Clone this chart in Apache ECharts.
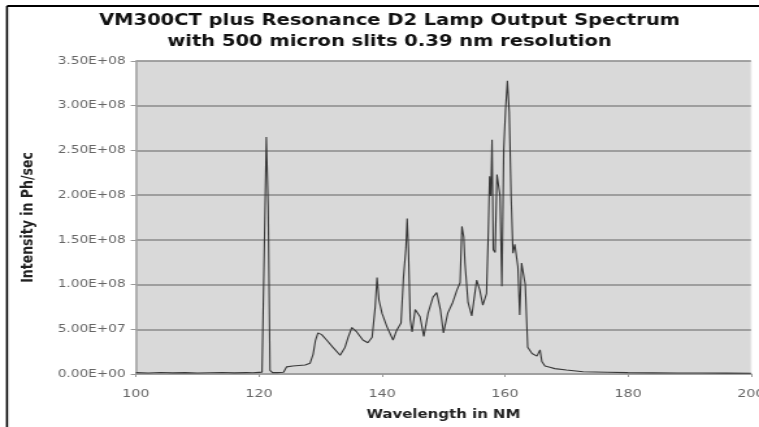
<!DOCTYPE html>
<html>
<head>
<meta charset="utf-8">
<script src="https://cdn.jsdelivr.net/npm/echarts@6/dist/echarts.min.js"></script>
<style>
html,body{margin:0;padding:0;background:#fff;overflow:hidden;}
#wrap{width:759px;height:427px;overflow:hidden;position:relative;}
#chart{width:584px;height:427px;transform:scaleX(1.29966);transform-origin:0 0;}
</style>
</head>
<body>
<div id="wrap"><div id="chart"></div></div>
<script>
const titleLines = ['VM300CT plus Resonance D2 Lamp Output Spectrum', 'with 500 micron slits 0.39 nm resolution'];
const xAxisName = 'Wavelength in NM';
const yAxisName = 'Intensity in Ph/sec';

const wavelength = [100, 102, 104, 106, 108, 110, 112, 114, 116, 118, 119, 120, 120.5, 120.9, 121.2, 121.5, 121.8, 122.2, 123, 124, 124.5, 125.5, 126.5, 127.5, 128.3, 128.8, 129.2, 129.6, 130.2, 131, 132, 133.2, 134, 134.5, 135.1, 135.9, 136.9, 137.7, 138.4, 138.9, 139.2, 139.5, 140, 140.8, 141.8, 142.4, 143.1, 143.5, 143.9, 144.1, 144.3, 144.6, 144.9, 145.4, 146.2, 146.8, 147.5, 148.3, 148.9, 149.5, 150.0, 150.7, 151.5, 152.2, 152.7, 153.0, 153.3, 153.5, 154.0, 154.6, 155.4, 155.9, 156.4, 157.0, 157.3, 157.5, 157.7, 157.9, 158.1, 158.4, 158.7, 158.9, 159.2, 159.5, 159.8, 160.1, 160.4, 160.7, 161.0, 161.3, 161.6, 162.1, 162.4, 162.7, 163.1, 163.3, 163.7, 164.4, 165.2, 165.7, 166.0, 166.5, 167.3, 168.1, 170, 172.7, 176.6, 180, 184, 188, 192, 196, 200];

const intensity = [1.5e6, 1.2e6, 1.6e6, 1.3e6, 1.5e6, 1.2e6, 1.4e6, 1.6e6, 1.3e6, 1.5e6, 1.4e6, 1.8e6, 2e6, 4e6, 265e6, 187e6, 4e6, 1.5e6, 1.5e6, 2e6, 8e6, 9e6, 9.5e6, 10e6, 12e6, 22e6, 38e6, 46e6, 44e6, 38e6, 30e6, 21e6, 30e6, 41e6, 52e6, 47e6, 38e6, 35e6, 41e6, 75e6, 108e6, 83e6, 68e6, 53e6, 38e6, 49e6, 57e6, 108e6, 141e6, 174e6, 141e6, 61e6, 47e6, 72e6, 64e6, 42e6, 68e6, 86e6, 91e6, 72e6, 46e6, 68e6, 80e6, 94e6, 102e6, 165e6, 153e6, 124e6, 80e6, 65e6, 105e6, 94e6, 77e6, 90e6, 160e6, 221e6, 199e6, 262e6, 139e6, 136e6, 223e6, 221e6, 199e6, 98e6, 251e6, 296e6, 328e6, 293e6, 200e6, 135e6, 145e6, 120e6, 66e6, 124e6, 122e6, 100e6, 30e6, 23e6, 20e6, 27e6, 14e6, 9e6, 7.5e6, 6e6, 4.5e6, 2.5e6, 2e6, 1.5e6, 1.3e6, 1.2e6, 1.1e6, 1.0e6, 0.9e6];

function sci(v) {
  const s = Number(v).toExponential(2);
  const parts = s.split('e');
  let e = parseInt(parts[1], 10);
  const sign = e < 0 ? '-' : '+';
  e = Math.abs(e);
  return parts[0] + 'E' + sign + (e < 10 ? '0' + e : '' + e);
}

const chart = echarts.init(document.getElementById('chart'), null, {renderer: 'canvas'});
const FONT = 'DejaVu Sans';
chart.setOption({
  animation: false,
  backgroundColor: '#ffffff',
  title: {
    text: titleLines.join('\n'),
    left: 294.7,
    textAlign: 'center',
    top: 6,
    textStyle: {fontFamily: FONT, fontWeight: 'bold', fontSize: 15, color: '#111', lineHeight: 21}
  },
  grid: {left: 104.6, right: 6.2, top: 61, bottom: 53, outerBoundsMode: 'none', containLabel: false,
         show: true, backgroundColor: '#d9d9d9', borderColor: '#e6e6e6', borderWidth: 1},
  xAxis: {
    type: 'value', min: 100, max: 200, interval: 20,
    name: xAxisName, nameLocation: 'middle', nameGap: 35,
    nameTextStyle: {fontFamily: FONT, fontWeight: 'bold', fontSize: 11.5, color: '#222'},
    axisLine: {show: true, onZero: false, lineStyle: {color: '#a0a0a0', width: 1.5}},
    axisTick: {show: true, inside: false, length: 3, lineStyle: {color: '#999'}},
    axisLabel: {fontFamily: FONT, fontSize: 11, color: '#666', margin: 15},
    splitLine: {show: false}
  },
  yAxis: {
    type: 'value', min: 0, max: 3.5e8, interval: 5e7,
    name: yAxisName, nameLocation: 'middle', nameGap: 76, nameRotate: 90,
    nameTextStyle: {fontFamily: FONT, fontWeight: 'bold', fontSize: 12.5, color: '#222'},
    axisLine: {show: true, lineStyle: {color: '#a0a0a0', width: 1.5}},
    axisTick: {show: true, length: 4, lineStyle: {color: '#999'}},
    axisLabel: {fontFamily: FONT, fontSize: 10.5, color: '#666', margin: 8, formatter: sci},
    splitLine: {show: true, lineStyle: {color: '#8a8a8a', width: 1.5}}
  },
  series: [{
    type: 'line',
    data: wavelength.map((w, i) => [w, intensity[i]]),
    showSymbol: false,
    lineStyle: {color: '#383838', width: 1.1},
    z: 5
  }],
  graphic: [
    {type: 'line', shape: {x1: 5.4, y1: 6, x2: 584, y2: 6}, style: {stroke: '#000', lineWidth: 2}},
    {type: 'line', shape: {x1: 5.4, y1: 6, x2: 5.4, y2: 427}, style: {stroke: '#000', lineWidth: 1.6}}
  ]
});
</script>
</body>
</html>
